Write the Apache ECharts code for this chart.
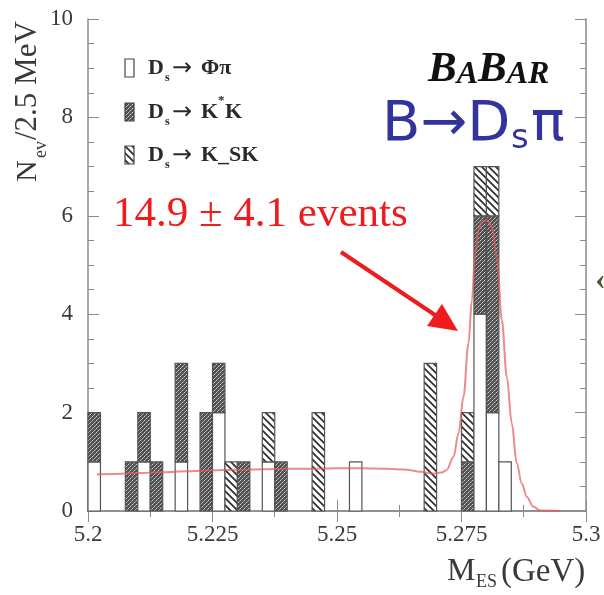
<!DOCTYPE html>
<html>
<head>
<meta charset="utf-8">
<script src="https://cdn.jsdelivr.net/npm/echarts@6/dist/echarts.min.js"></script>
<style>
  html, body { margin: 0; padding: 0; background: #ffffff; }
  #chart { width: 604px; height: 595px; }
</style>
</head>
<body>
<div id="chart"></div>
<script>
// M_ES bins: lower edges in GeV, each 2.5 MeV wide
const binLow = [
  5.2000, 5.2025, 5.2050, 5.2075, 5.2100, 5.2125, 5.2150, 5.2175, 5.2200, 5.2225,
  5.2250, 5.2275, 5.2300, 5.2325, 5.2350, 5.2375, 5.2400, 5.2425, 5.2450, 5.2475,
  5.2500, 5.2525, 5.2550, 5.2575, 5.2600, 5.2625, 5.2650, 5.2675, 5.2700, 5.2725,
  5.2750, 5.2775, 5.2800, 5.2825, 5.2850, 5.2875, 5.2900, 5.2925, 5.2950, 5.2975
];
const binWidth = 0.0025;

// Events per bin for each D_s decay mode (stacked: phi pi, then K* K, then K_S K)
const phiPi = [
  1, 0, 0, 0, 1, 0, 0, 1, 0, 0,
  2, 0, 0, 0, 1, 0, 0, 0, 0, 0,
  0, 1, 0, 0, 0, 0, 0, 0, 0, 0,
  0, 4, 2, 1, 0, 0, 0, 0, 0, 0
];
const kstarK = [
  1, 0, 0, 1, 1, 1, 0, 2, 0, 2,
  1, 0, 1, 0, 0, 1, 0, 0, 0, 0,
  0, 0, 0, 0, 0, 0, 0, 0, 0, 0,
  1, 2, 4, 0, 0, 0, 0, 0, 0, 0
];
const ksK = [
  0, 0, 0, 0, 0, 0, 0, 0, 0, 0,
  0, 1, 0, 0, 1, 0, 0, 0, 2, 0,
  0, 0, 0, 0, 0, 0, 0, 3, 0, 0,
  1, 1, 1, 0, 0, 0, 0, 0, 0, 0
];

// Fitted shape (ARGUS background + signal peak)
const fitMass = [
  5.2018, 5.2050, 5.2100, 5.2150, 5.2200, 5.2250, 5.2300, 5.2350, 5.2400, 5.2450,
  5.2500, 5.2550, 5.2600, 5.2640, 5.2667, 5.2693, 5.2710, 5.2720, 5.2734, 5.2744,
  5.2754, 5.2764, 5.2771, 5.2777, 5.2784, 5.2791, 5.2801, 5.2811, 5.2821, 5.2831,
  5.2841, 5.2851, 5.2861, 5.2871, 5.2881, 5.2894, 5.2908, 5.2948
];
const fitEvents = [
  0.74, 0.75, 0.77, 0.79, 0.81, 0.83, 0.84, 0.85, 0.86, 0.86,
  0.87, 0.87, 0.86, 0.84, 0.80, 0.76, 0.78, 0.83, 1.10, 1.58,
  2.32, 3.41, 4.29, 5.17, 5.71, 5.88, 5.91, 5.78, 5.17, 3.88,
  2.73, 1.78, 0.97, 0.56, 0.29, 0.09, 0.01, 0.00
];

const xTickLabels = ['5.2', '5.225', '5.25', '5.275', '5.3'];
const yTickLabels = ['0', '2', '4', '6', '8', '10'];

// Fill patterns for the decay modes
function makeHatch() {
  const n = 7;
  const c = document.createElement('canvas');
  c.width = n; c.height = n;
  const g = c.getContext('2d');
  g.fillStyle = '#ffffff'; g.fillRect(0, 0, n, n);
  g.strokeStyle = '#2e2e2e'; g.lineWidth = 1.7;
  g.beginPath();
  g.moveTo(-2, -2); g.lineTo(n + 2, n + 2);
  g.moveTo(-n - 2, -2); g.lineTo(2, n + 2);
  g.moveTo(n - 2, -2); g.lineTo(2 * n + 2, n + 2);
  g.stroke();
  return c;
}
function makeStipple() {
  const c = document.createElement('canvas');
  c.width = 4; c.height = 4;
  const g = c.getContext('2d');
  g.fillStyle = '#505050'; g.fillRect(0, 0, 4, 4);
  g.fillStyle = '#d2d2d2';
  g.fillRect(0, 0, 1, 1);
  g.fillRect(2, 2, 1, 1);
  g.fillStyle = '#a4a4a4';
  g.fillRect(3, 1, 1, 1);
  g.fillRect(1, 3, 1, 1);
  return c;
}
const openFill = '#ffffff';
const stippleFill = { image: makeStipple(), repeat: 'repeat' };
const hatchFill = { image: makeHatch(), repeat: 'repeat' };

const histData = [];
for (let k = 0; k < binLow.length; k++) {
  if (phiPi[k] + kstarK[k] + ksK[k] > 0) {
    histData.push([binLow[k], binLow[k] + binWidth, phiPi[k], kstarK[k], ksK[k]]);
  }
}
const fitData = fitMass.map((m, i) => [m, fitEvents[i]]);

const chart = echarts.init(document.getElementById('chart'), null, { renderer: 'canvas' });

const serif = 'Liberation Serif, DejaVu Serif, serif';
const axisGrey = '#8a8a8a';

function tickAxis(extra) {
  return Object.assign({
    type: 'value',
    axisLine: { show: true, lineStyle: { color: axisGrey, width: 1.5 } },
    axisTick: { show: true, inside: true, length: 11, lineStyle: { color: axisGrey, width: 1 } },
    minorTick: { show: true, length: 6, lineStyle: { color: axisGrey, width: 1 } },
    splitLine: { show: false },
    minorSplitLine: { show: false }
  }, extra);
}

const option = {
  animation: false,
  backgroundColor: '#ffffff',
  grid: { left: 88, right: 18, top: 19, bottom: 84 },
  xAxis: [
    tickAxis({
      min: 5.2, max: 5.3, interval: 0.025, position: 'bottom',
      minorTick: { show: true, splitNumber: 2, length: 6, lineStyle: { color: axisGrey } },
      axisLabel: {
        show: true, margin: 12, fontFamily: serif, fontSize: 23, color: '#3a3a3a',
        formatter: (v) => xTickLabels[Math.round((v - 5.2) / 0.025)]
      }
    }),
    tickAxis({
      min: 5.2, max: 5.3, interval: 0.025, position: 'top',
      minorTick: { show: true, splitNumber: 2, length: 6, lineStyle: { color: axisGrey } },
      axisLabel: { show: false }
    })
  ],
  yAxis: [
    tickAxis({
      min: 0, max: 10, interval: 2, position: 'left',
      minorTick: { show: true, splitNumber: 4, length: 6, lineStyle: { color: axisGrey } },
      axisLabel: {
        show: true, margin: 15, fontFamily: serif, fontSize: 23, color: '#3a3a3a',
        formatter: (v) => yTickLabels[Math.round(v / 2)]
      }
    }),
    tickAxis({
      min: 0, max: 10, interval: 2, position: 'right',
      minorTick: { show: true, splitNumber: 4, length: 6, lineStyle: { color: axisGrey } },
      axisLabel: { show: false }
    })
  ],
  series: [
    {
      type: 'custom',
      name: 'histogram',
      xAxisIndex: 0, yAxisIndex: 0,
      data: histData,
      encode: { x: [0, 1], y: [2] },
      renderItem: function (params, api) {
        const x0 = api.value(0), x1 = api.value(1);
        const a = api.value(2), b = api.value(3), c = api.value(4);
        const layers = [[0, a, openFill], [a, a + b, stippleFill], [a + b, a + b + c, hatchFill]];
        const children = [];
        layers.forEach(([lo, hi, fill]) => {
          if (hi <= lo) return;
          const pTop = api.coord([x0, hi]);
          const pBot = api.coord([x1, lo]);
          children.push({
            type: 'rect',
            shape: { x: pTop[0], y: pTop[1], width: pBot[0] - pTop[0], height: pBot[1] - pTop[1] },
            style: { fill: fill, stroke: '#555555', lineWidth: 1.2 }
          });
        });
        return { type: 'group', children: children };
      }
    },
    {
      type: 'line',
      name: 'fit',
      xAxisIndex: 0, yAxisIndex: 0,
      data: fitData,
      showSymbol: false,
      smooth: 0.35,
      smoothMonotone: 'x',
      lineStyle: { color: '#e45a5a', width: 2, opacity: 0.7 },
      z: 5
    }
  ],
  graphic: [
    // y axis title
    { type: 'text', x: 28, y: 182, rotation: Math.PI / 2,
      style: { text: 'N', font: '30px ' + serif, fill: '#3a3a3a', align: 'left', verticalAlign: 'middle' } },
    { type: 'text', x: 41, y: 158, rotation: Math.PI / 2,
      style: { text: 'ev', font: '18px ' + serif, fill: '#3a3a3a', align: 'left', verticalAlign: 'middle' } },
    { type: 'text', x: 28, y: 140, rotation: Math.PI / 2,
      style: { text: '/2.5 MeV', font: '31px ' + serif, fill: '#3a3a3a', align: 'left', verticalAlign: 'middle' } },

    // x axis title
    { type: 'text', x: 447, y: 572,
      style: { text: 'M', font: '32px ' + serif, fill: '#3a3a3a', align: 'left', verticalAlign: 'middle' } },
    { type: 'text', x: 476, y: 582,
      style: { text: 'ES', font: '18px ' + serif, fill: '#3a3a3a', align: 'left', verticalAlign: 'middle' } },
    { type: 'text', x: 501, y: 572,
      style: { text: '(GeV)', font: '33px ' + serif, fill: '#3a3a3a', align: 'left', verticalAlign: 'middle' } },

    // legend swatches
    { type: 'rect', shape: { x: 125, y: 59, width: 9, height: 18 }, style: { fill: openFill, stroke: '#444', lineWidth: 1.2 } },
    { type: 'rect', shape: { x: 125, y: 103, width: 9, height: 18 }, style: { fill: stippleFill, stroke: '#444', lineWidth: 1.2 } },
    { type: 'rect', shape: { x: 125, y: 146, width: 9, height: 18 }, style: { fill: hatchFill, stroke: '#444', lineWidth: 1.2 } },

    // legend labels
    { type: 'text', x: 148, y: 68, style: { text: 'D', font: 'bold 22px ' + serif, fill: '#2a2a2a', verticalAlign: 'middle' } },
    { type: 'text', x: 165, y: 78, style: { text: 's', font: 'bold 12px ' + serif, fill: '#2a2a2a', verticalAlign: 'middle' } },
    { type: 'text', x: 172, y: 69, style: { text: '\u2192', font: '24px DejaVu Sans, sans-serif', fill: '#2a2a2a', verticalAlign: 'middle' } },
    { type: 'text', x: 201, y: 68, style: { text: '\u03A6\u03C0', font: 'bold 22px ' + serif, fill: '#2a2a2a', verticalAlign: 'middle' } },

    { type: 'text', x: 148, y: 112, style: { text: 'D', font: 'bold 22px ' + serif, fill: '#2a2a2a', verticalAlign: 'middle' } },
    { type: 'text', x: 165, y: 122, style: { text: 's', font: 'bold 12px ' + serif, fill: '#2a2a2a', verticalAlign: 'middle' } },
    { type: 'text', x: 172, y: 113, style: { text: '\u2192', font: '24px DejaVu Sans, sans-serif', fill: '#2a2a2a', verticalAlign: 'middle' } },
    { type: 'text', x: 201, y: 112, style: { text: 'K', font: 'bold 22px ' + serif, fill: '#2a2a2a', verticalAlign: 'middle' } },
    { type: 'text', x: 218, y: 101, style: { text: '*', font: 'bold 13px ' + serif, fill: '#2a2a2a', verticalAlign: 'middle' } },
    { type: 'text', x: 225, y: 112, style: { text: 'K', font: 'bold 22px ' + serif, fill: '#2a2a2a', verticalAlign: 'middle' } },

    { type: 'text', x: 148, y: 155, style: { text: 'D', font: 'bold 22px ' + serif, fill: '#2a2a2a', verticalAlign: 'middle' } },
    { type: 'text', x: 165, y: 165, style: { text: 's', font: 'bold 12px ' + serif, fill: '#2a2a2a', verticalAlign: 'middle' } },
    { type: 'text', x: 172, y: 156, style: { text: '\u2192', font: '24px DejaVu Sans, sans-serif', fill: '#2a2a2a', verticalAlign: 'middle' } },
    { type: 'text', x: 201, y: 155, style: { text: 'K_SK', font: 'bold 22px ' + serif, fill: '#2a2a2a', verticalAlign: 'middle' } },

    // experiment logo
    { type: 'text', x: 428, y: 91,
      style: {
        text: '{b|B}{a|A}{b|B}{a|AR}',
        verticalAlign: 'bottom', align: 'left',
        rich: {
          b: { font: 'italic bold 43px ' + serif, fill: '#111111', verticalAlign: 'bottom' },
          a: { font: 'italic bold 32px ' + serif, fill: '#111111', verticalAlign: 'bottom' }
        }
      } },

    // decay channel
    { type: 'text', x: 382, y: 125,
      style: { text: 'B\u2192D', font: '56px DejaVu Sans, sans-serif', fill: '#33339c', verticalAlign: 'middle' } },
    { type: 'text', x: 511, y: 139,
      style: { text: 's', font: '34px DejaVu Sans, sans-serif', fill: '#33339c', verticalAlign: 'middle' } },
    { type: 'text', x: 531, y: 125,
      style: { text: '\u03C0', font: '56px DejaVu Sans, sans-serif', fill: '#33339c', verticalAlign: 'middle' } },

    // signal yield
    { type: 'text', x: 113, y: 215,
      style: { text: '14.9 \u00B1 4.1 events', font: '43px ' + serif, fill: '#ee1c1c', verticalAlign: 'middle' } },

    // arrow to the peak
    { type: 'line', shape: { x1: 341, y1: 252, x2: 438, y2: 317 }, style: { stroke: '#ee1c1c', lineWidth: 4 } },
    { type: 'polygon', shape: { points: [[458, 331], [427, 326], [442, 304]] }, style: { fill: '#ee1c1c' } },

    // clipped glyph at the right edge
    { type: 'text', x: 595, y: 281,
      style: { text: '\u2039', font: 'bold 32px ' + serif, fill: '#55553a', verticalAlign: 'middle' } }
  ]
};

chart.setOption(option);
</script>
</body>
</html>
